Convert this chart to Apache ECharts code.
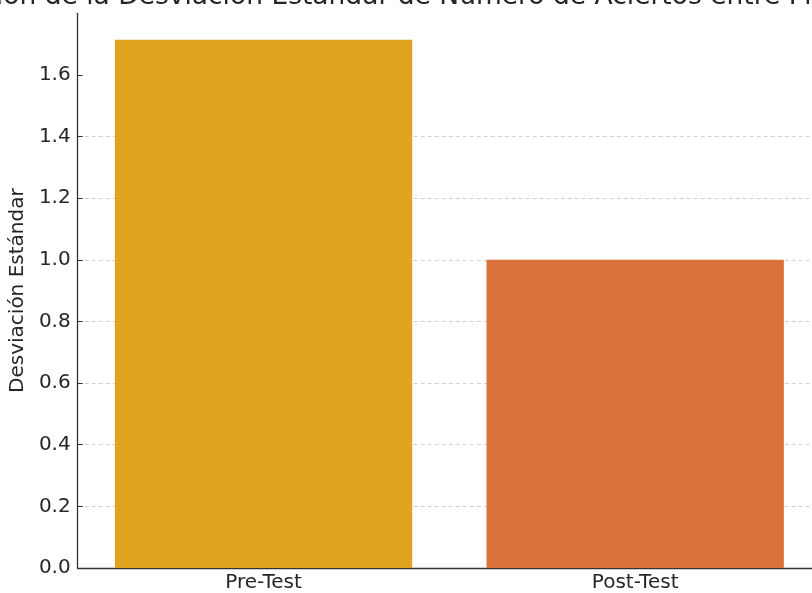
<!DOCTYPE html>
<html>
<head>
<meta charset="utf-8">
<script src="https://cdn.jsdelivr.net/npm/echarts@6/dist/echarts.min.js"></script>
<style>
  html, body { margin: 0; padding: 0; background: #fff; overflow: hidden; }
  #wrap { width: 812px; height: 593px; overflow: hidden; }
  #chart { width: 840px; height: 593px; }
</style>
</head>
<body>
<div id="wrap"><div id="chart"></div></div>
<script>
// Standard deviation of correct answers, before and after
const categories = ['Pre-Test', 'Post-Test'];
const stdDev = [1.714, 1.0];
const barColors = ['#DFA320', '#DA703A'];
const yTicks = [0, 0.2, 0.4, 0.6, 0.8, 1.0, 1.2, 1.4, 1.6];
const titleText = 'Comparación de la Desviación Estándar de Número de Aciertos entre Pre-Test y Post-Test';
const yName = 'Desviación Estándar';

const FONT = '"DejaVu Sans", sans-serif';
const titleSize = 26.5;
const labelSize = 20;

// Plot area geometry (pixels); the plot runs past the right edge of the view
const plotLeft = 77;
const plotWidth = 744;
const plotTop = 13.3;
const plotBottom = 24;

const chart = echarts.init(document.getElementById('chart'), null, { renderer: 'canvas' });

chart.setOption({
  animation: false,
  backgroundColor: '#ffffff',
  grid: { left: plotLeft, width: plotWidth, top: plotTop, bottom: plotBottom, containLabel: false },
  graphic: [{
    type: 'text',
    x: plotLeft + plotWidth / 2,
    y: -3,
    style: {
      text: titleText,
      font: titleSize + 'px ' + FONT,
      fill: '#262626',
      align: 'center',
      verticalAlign: 'middle'
    }
  }],
  xAxis: {
    type: 'category',
    data: categories,
    axisLine: { show: true, lineStyle: { color: '#333333', width: 1.3 } },
    axisTick: { show: true, inside: true, alignWithLabel: true, length: 6, lineStyle: { color: '#333333' } },
    axisLabel: { color: '#262626', fontFamily: FONT, fontSize: labelSize, margin: 5 },
    splitLine: { show: false }
  },
  yAxis: {
    type: 'value',
    min: 0,
    max: 1.05 * stdDev[0],
    interval: 0.2,
    name: yName,
    nameLocation: 'middle',
    nameGap: 41,
    nameTextStyle: { color: '#262626', fontFamily: FONT, fontSize: labelSize },
    axisLine: { show: true, lineStyle: { color: '#333333', width: 1.3 } },
    axisTick: { show: true, inside: true, length: 5, customValues: yTicks, lineStyle: { color: '#333333' } },
    axisLabel: {
      color: '#262626', fontFamily: FONT, fontSize: labelSize, margin: 7,
      customValues: yTicks,
      formatter: v => v.toFixed(1)
    },
    splitLine: { show: true, showMaxLine: false, lineStyle: { color: '#d0d0d0', type: [4, 3], width: 1 } }
  },
  series: [{
    type: 'bar',
    barWidth: '80%',
    data: stdDev.map((v, i) => ({ value: v, itemStyle: { color: barColors[i] } })),
    z: 3
  }]
});
</script>
</body>
</html>
